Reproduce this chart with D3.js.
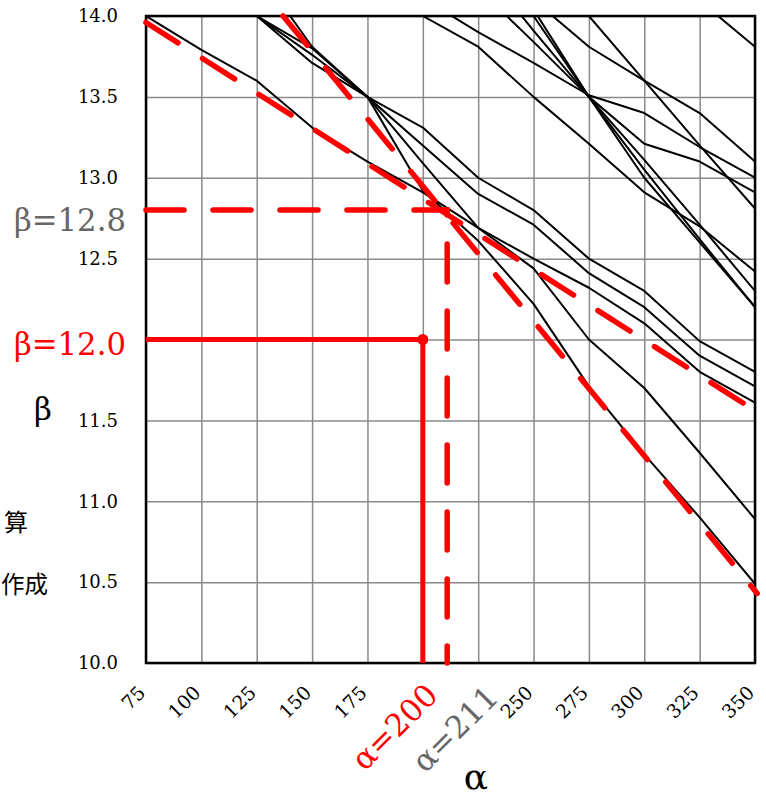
<!DOCTYPE html>
<html>
<head>
<meta charset="utf-8">
<script src="https://cdnjs.cloudflare.com/ajax/libs/d3/7.8.5/d3.min.js"></script>
<style>
  body { margin: 0; background: #fff; }
  svg text { font-family: "DejaVu Serif", serif; }
</style>
</head>
<body>
<script>
// alpha positions where every curve is given
const alphas = [75, 100, 125, 150, 175, 200, 225, 250, 275, 300, 325, 350];
const alphaLabels = ["75", "100", "125", "150", "175", "", "", "250", "275", "300", "325", "350"];
const betaTicks = [10.0, 10.5, 11.0, 11.5, 12.0, 12.5, 13.0, 13.5, 14.0];
const betaLabels = ["10.0", "10.5", "11.0", "11.5", "", "12.5", "13.0", "13.5", "14.0"];

// beta values of each curve at the alphas above (null = not drawn)
const curve01 = [14.00, 13.79, 13.60, 13.31, 13.10, 12.91, 12.69, 12.50, 12.32, 12.10, 11.80, 11.61];
const curve02 = [null, null, 14.00, 13.71, 13.50, 13.31, 13.00, 12.80, 12.50, 12.30, 11.99, 11.80];
const curve03 = [null, null, 14.00, 13.80, 13.50, 13.20, 12.90, 12.71, 12.41, 12.20, 11.90, 11.71];
const curve04 = [null, null, 14.00, 13.76, 13.50, 13.09, 12.69, 12.44, 12.00, 11.70, 11.30, 10.89];
const curve05 = [null, null, 14.29, 13.81, 13.50, 12.92, 12.61, 12.22, 11.71, 11.29, 10.90, 10.49];
const curve06 = [null, null, null, null, null, 14.00, 13.81, 13.50, 13.21, 12.91, 12.70, 12.42];
const curve07 = [null, null, null, null, null, 14.11, 13.90, 13.71, 13.51, 13.40, 13.19, 13.00];
const curve08 = [null, null, null, null, null, null, 14.17, 13.84, 13.50, 13.21, 13.10, 12.91];
const curve09 = [null, null, null, null, null, null, 14.33, 13.91, 13.50, 13.11, 12.71, 12.30];
const curve10 = [null, null, null, null, null, null, 14.50, 14.00, 13.50, 13.05, 12.62, 12.20];
const curve11 = [null, null, null, null, null, null, 14.59, 14.04, 13.50, 13.00, 12.60, 12.20];
const curve12 = [null, null, null, null, null, null, null, 14.10, 13.81, 13.60, 13.40, 13.10];
const curve13 = [null, null, null, null, null, null, null, null, 14.00, 13.60, 13.20, 12.81];
const curve14 = [null, null, null, null, null, null, null, null, null, null, 14.095, 13.81];
const curves = [curve01, curve02, curve03, curve04, curve05, curve06, curve07,
  curve08, curve09, curve10, curve11, curve12, curve13, curve14];

// red fitted lines (dashed)
const fitGentleAlpha = [75, 350];
const fitGentleBeta = [13.96, 11.56];
const fitSteepAlpha = [136.9, 351];
const fitSteepBeta = [14.0, 10.43];

// reading points
const readAlpha = 200, readBeta = 12.0;
const crossAlpha = 211, crossBeta = 12.8;

const W = 766, H = 800;
const m = { left: 146, right: 755, top: 16, bottom: 663 };

const x = d3.scaleLinear().domain([75, 350]).range([m.left, m.right]);
const y = d3.scaleLinear().domain([10, 14]).range([m.bottom, m.top]);

const svg = d3.select("body").append("svg")
  .attr("width", W).attr("height", H);

svg.append("clipPath").attr("id", "plot")
  .append("rect").attr("x", m.left).attr("y", m.top)
  .attr("width", m.right - m.left).attr("height", m.bottom - m.top);

// grid
const xGrid = svg.append("g").attr("transform", "translate(0," + m.bottom + ")")
  .call(d3.axisBottom(x).tickValues(alphas).tickSize(-(m.bottom - m.top)).tickFormat(""));
const yGrid = svg.append("g").attr("transform", "translate(" + m.left + ",0)")
  .call(d3.axisLeft(y).tickValues(betaTicks).tickSize(-(m.right - m.left)).tickFormat(""));
[xGrid, yGrid].forEach(g => {
  g.select(".domain").remove();
  g.selectAll("line").attr("stroke", "#8a8a8a").attr("stroke-width", 1.5);
});

// black curves
const line = d3.line()
  .defined(d => d[1] != null)
  .x(d => x(d[0])).y(d => y(d[1]));

svg.append("g").attr("clip-path", "url(#plot)")
  .selectAll("path").data(curves).enter().append("path")
  .attr("d", c => line(c.map((b, i) => [alphas[i], b])))
  .attr("fill", "none").attr("stroke", "#000").attr("stroke-width", 2)
  .attr("stroke-linejoin", "round");

// frame
svg.append("rect").attr("x", m.left).attr("y", m.top)
  .attr("width", m.right - m.left).attr("height", m.bottom - m.top)
  .attr("fill", "none").attr("stroke", "#000").attr("stroke-width", 2.5);

// red fits
const red = "#ff0000";
const fits = [
  fitGentleAlpha.map((a, i) => [a, fitGentleBeta[i]]),
  fitSteepAlpha.map((a, i) => [a, fitSteepBeta[i]])
];
svg.append("g").selectAll("path").data(fits).enter().append("path")
  .attr("d", line)
  .attr("fill", "none").attr("stroke", red).attr("stroke-width", 5.5)
  .attr("stroke-linecap", "round").attr("stroke-dasharray", "38 29");

// dashed reading at the crossing
svg.append("path")
  .attr("d", line([[75, crossBeta], [crossAlpha, crossBeta], [crossAlpha, 10]]))
  .attr("fill", "none").attr("stroke", red).attr("stroke-width", 5.5)
  .attr("stroke-linecap", "round").attr("stroke-dasharray", "38 29");

// solid reading
svg.append("path")
  .attr("d", line([[75, readBeta], [readAlpha, readBeta], [readAlpha, 10]]))
  .attr("fill", "none").attr("stroke", red).attr("stroke-width", 5);
svg.append("circle").attr("cx", x(readAlpha)).attr("cy", y(readBeta))
  .attr("r", 5.5).attr("fill", red);

// y tick labels
const yAx = svg.append("g").attr("transform", "translate(" + m.left + ",0)")
  .call(d3.axisLeft(y).tickValues(betaTicks).tickSize(0).tickPadding(28)
    .tickFormat((d, i) => betaLabels[i]));
yAx.select(".domain").remove();
yAx.selectAll("text").attr("font-size", 18).attr("font-family", "DejaVu Serif").attr("fill", "#000");

// x tick labels
const xAx = svg.append("g").attr("transform", "translate(0," + m.bottom + ")")
  .call(d3.axisBottom(x).tickValues(alphas).tickSize(0)
    .tickFormat((d, i) => alphaLabels[i]));
xAx.select(".domain").remove();
xAx.selectAll("text")
  .attr("font-size", 19).attr("font-family", "DejaVu Serif").attr("fill", "#000")
  .attr("text-anchor", "end").attr("x", 0).attr("y", 0).attr("dy", 0)
  .attr("transform", "translate(0,31) rotate(-45)");

// reading labels
svg.append("text").attr("x", 126).attr("y", y(crossBeta) + 21)
  .attr("text-anchor", "end").attr("font-size", 32).attr("fill", "#666")
  .attr("textLength", 112).attr("lengthAdjust", "spacingAndGlyphs")
  .text("β=12.8");
svg.append("text").attr("x", 126).attr("y", y(readBeta) + 15)
  .attr("text-anchor", "end").attr("font-size", 32).attr("fill", red)
  .attr("textLength", 112).attr("lengthAdjust", "spacingAndGlyphs")
  .text("β=12.0");
svg.append("text")
  .attr("transform", "translate(" + (x(readAlpha) + 17) + "," + (m.bottom + 34) + ") rotate(-45)")
  .attr("text-anchor", "end").attr("font-size", 31).attr("fill", red)
  .text("α=200");
svg.append("text")
  .attr("transform", "translate(" + (x(225) + 22) + "," + (m.bottom + 36) + ") rotate(-45)")
  .attr("text-anchor", "end").attr("font-size", 31).attr("fill", "#666")
  .text("α=211");

// axis titles
svg.append("text").attr("x", 43).attr("y", 420).attr("text-anchor", "middle")
  .attr("font-size", 31).text("β");
svg.append("text").attr("x", 476).attr("y", 789).attr("text-anchor", "middle")
  .attr("font-size", 36).text("α");

// side notes at the left edge
svg.append("text").attr("x", 28).attr("y", 531).attr("text-anchor", "end")
  .style("font-family", "'Noto Sans CJK JP'").attr("font-size", 24).text("算");
svg.append("text").attr("x", 48).attr("y", 593).attr("text-anchor", "end")
  .style("font-family", "'Noto Sans CJK JP'").attr("font-size", 23.5).text("作成");
</script>
</body>
</html>
